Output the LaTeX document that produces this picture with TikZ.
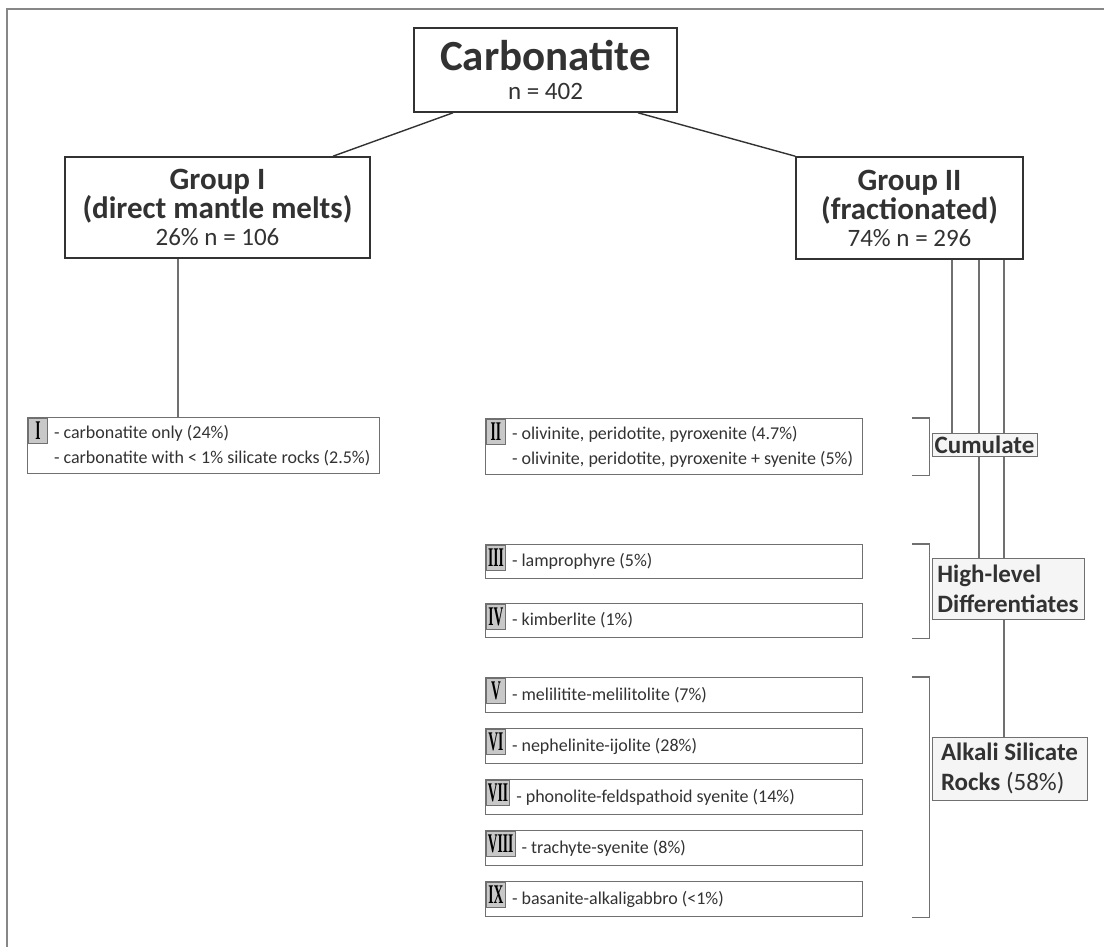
\documentclass[tikz,border=0pt]{standalone}
\usepackage{fontspec}
\setmainfont{Carlito}
\newfontfamily\romanfont[FakeStretch=0.5]{Liberation Serif}
\usepackage{tikz}
\usetikzlibrary{positioning,backgrounds}
\usepackage{xcolor}
\definecolor{inkgray}{RGB}{50,50,50}
\definecolor{rulegray}{RGB}{112,112,112}
\definecolor{framegray}{RGB}{135,135,135}
\definecolor{badgefill}{RGB}{200,200,200}
\definecolor{tagfill}{RGB}{245,245,245}

\begin{document}
\begin{tikzpicture}[x=1pt, y=-1pt, every node/.style={text=inkgray},
    mainbox/.style={draw=inkgray, line width=1.6pt, fill=white, align=center, inner sep=0pt},
    rowbox/.style={draw=rulegray, line width=1.1pt, minimum width=377pt, inner sep=0pt},
    badge/.style={draw=rulegray, fill=badgefill, line width=0.8pt, minimum width=19pt, minimum height=25pt,
      inner xsep=1.5pt, inner ysep=0pt, font=\romanfont\bfseries\fontsize{27}{27}\selectfont, text=black},
    rowtext/.style={inner sep=0pt, align=left, font=\fontsize{18}{25}\selectfont},
    tag/.style={draw=rulegray, fill=tagfill, line width=1pt, inner sep=0pt, font=\bfseries\fontsize{25}{30}\selectfont},
    link/.style={draw=rulegray, line width=1.1pt},
    stem/.style={draw=inkgray, line width=1.4pt}]

  \useasboundingbox (0,0) rectangle (1104,947);
  \draw[framegray, line width=2pt] (7,947) |- (1104,9);

  % top of the tree
  \node[mainbox, minimum width=263pt, minimum height=84pt, font=\fontsize{25}{25}\selectfont] (carb) at (545.5,70)
    {{\fontsize{43}{43}\selectfont\bfseries Carbonatite}\\[4pt]n = 402};
  \node[mainbox, minimum width=305pt, minimum height=101pt, font=\fontsize{31}{27}\selectfont] (grp1) at (217.5,207.5)
    {\textbf{Group I}\\\textbf{(direct mantle melts)}\\{\fontsize{25}{27}\selectfont 26\% n = 106}};
  \node[mainbox, minimum width=227pt, minimum height=102pt, font=\fontsize{31}{27}\selectfont] (grp2) at (909.5,208)
    {\textbf{Group II}\\\textbf{(fractionated)}\\{\fontsize{25}{27}\selectfont 74\% n = 296}};

  \draw[stem] ([xshift=-92.5pt]carb.south) -- ([xshift=115.5pt]grp1.north);
  \draw[stem] ([xshift=92.5pt]carb.south) -- (grp2.north west);

  % group I
  \node[rowbox, minimum width=352pt, minimum height=56pt, anchor=north west] (b1) at (27,417) {};
  \node[badge, anchor=north west] (r1) at ([shift={(1pt,-1pt)}]b1.north west) {I};
  \node[rowtext, anchor=west] (t1) at ([xshift=6pt]r1.east |- b1.center)
    {- carbonatite only (24\%)\\- carbonatite with < 1\% silicate rocks (2.5\%)};

  % cumulates
  \node[rowbox, minimum height=56pt, anchor=north west] (b2) at (485,418) {};
  \node[badge, anchor=north west] (r2) at ([shift={(1pt,-1pt)}]b2.north west) {II};
  \node[rowtext, anchor=west] (t2) at ([xshift=6pt]r2.east |- b2.center)
    {- olivinite, peridotite, pyroxenite (4.7\%)\\- olivinite, peridotite, pyroxenite + syenite (5\%)};

  % high-level differentiates
  \node[rowbox, minimum height=34pt, anchor=north west] (b3) at (485,544) {};
  \node[rowbox, minimum height=34pt, below=24pt of b3] (b4) {};
  \node[badge, anchor=north west] (r3) at ([shift={(1pt,-1pt)}]b3.north west) {III};
  \node[badge, anchor=north west] (r4) at ([shift={(1pt,-1pt)}]b4.north west) {IV};
  \node[rowtext, anchor=west] (t3) at ([xshift=6pt]r3.east |- b3.center) {- lamprophyre (5\%)};
  \node[rowtext, anchor=west] (t4) at ([xshift=6pt]r4.east |- b4.center) {- kimberlite (1\%)};

  % alkali silicate rocks
  \foreach \k/\num/\txt in {5/V/{- melilitite-melilitolite (7\%)}, 6/VI/{- nephelinite-ijolite (28\%)},
      7/VII/{- phonolite-feldspathoid syenite (14\%)}, 8/VIII/{- trachyte-syenite (8\%)},
      9/IX/{- basanite-alkaligabbro (<1\%)}} {
    \node[rowbox, minimum height=35pt, anchor=north west] (b\k) at (485,{677+51*(\k-5)}) {};
    \node[badge, anchor=north west] (r\k) at ([shift={(1pt,-1pt)}]b\k.north west) {\num};
    \node[rowtext, anchor=west] (t\k) at ([xshift=6pt]r\k.east |- b\k.center) {\txt};
  }

  % brackets
  \draw[link] ([xshift=49pt]b2.north east) -- ++(17pt,0) |- ([xshift=49pt]b2.south east);
  \draw[link] ([xshift=49pt]b3.north east) -- ++(17pt,0) |- ([xshift=49pt]b4.south east);
  \draw[link] ([xshift=49pt]b5.north east) -- ++(17pt,0) |- ([xshift=49pt]b9.south east);

  \node[tag, minimum width=105pt, minimum height=23pt] (cumul) at (984.5,444.5) {Cumulate};
  \node[tag, minimum width=152pt, minimum height=61pt, align=left] (hilev) at (1008,588.5) {High-level\\Differentiates};
  \node[tag, minimum width=155pt, minimum height=63pt, align=left] (alkali) at (1009.5,768.5)
    {Alkali Silicate\\Rocks {\mdseries(58\%)}};

  \coordinate (vg) at (178,0);
  \coordinate (va) at (952,0);
  \coordinate (vb) at (979,0);
  \coordinate (vc) at (1004,0);
  \begin{scope}[on background layer]
    \draw[link] (grp1.south -| vg) -- (b1.north -| vg);
    \draw[link] (grp2.south -| va) -- (cumul.north -| va);
    \draw[link] (grp2.south -| vb) -- (hilev.north -| vb);
    \draw[link] (grp2.south -| vc) -- (alkali.north -| vc);
  \end{scope}
\end{tikzpicture}
\end{document}
